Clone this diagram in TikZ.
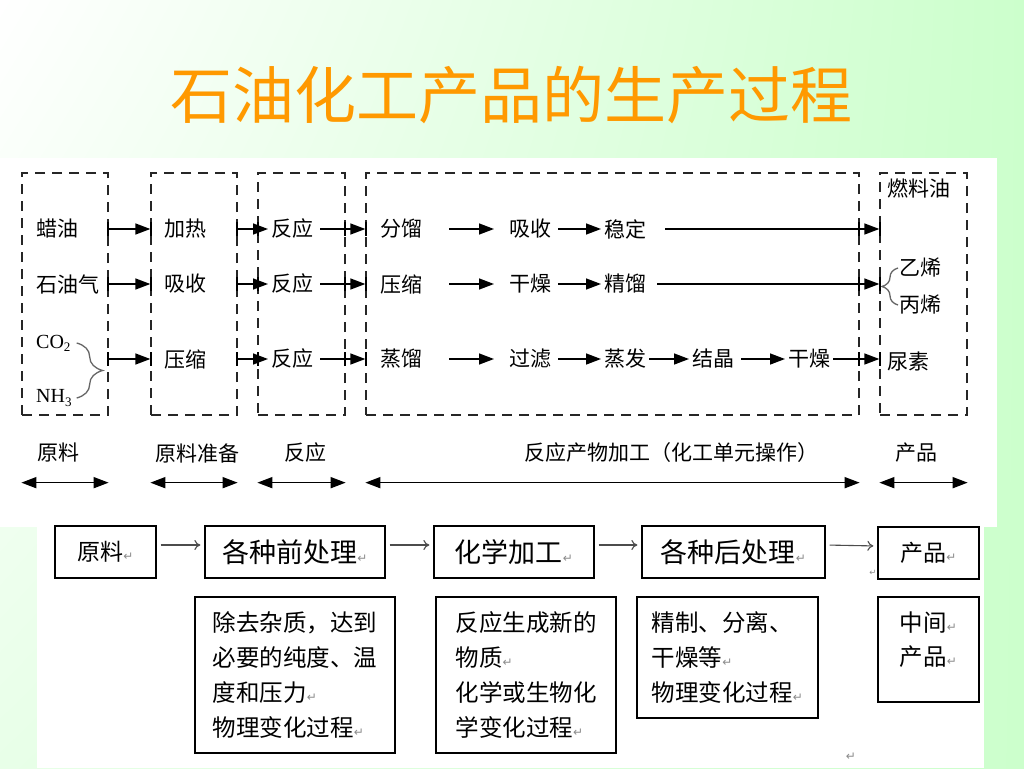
\documentclass[tikz,border=0pt]{standalone}
\usepackage{fontspec}
\setmainfont{Noto Sans CJK SC}
\newfontfamily\latinserif{Liberation Serif}
\newfontfamily\symfont{DejaVu Sans}
\usetikzlibrary{arrows.meta,decorations.pathreplacing,shadings}
\definecolor{bgright}{RGB}{204,255,204}
\definecolor{bgleft}{RGB}{232,255,232}
\definecolor{titleorange}{RGB}{255,153,0}
\newcommand{\retmark}{{\symfont\fontsize{12}{12}\selectfont\color{black!45}↵}}

\begin{document}
\begin{tikzpicture}[x=1pt,y=-1pt,
  stage/.style={draw=black!85,line width=1.3pt,dash pattern=on 10pt off 7pt,minimum width=#1,minimum height=242pt,inner sep=0pt},
  item/.style={anchor=west,inner sep=3pt,font=\fontsize{21}{21}\selectfont},
  arr/.style={-{Triangle[length=15pt,width=11pt]},line width=1.4pt},
  span/.style={{Triangle[length=15pt,width=11pt]}-{Triangle[length=15pt,width=11pt]},line width=1.6pt},
  tick/.style={line width=1.4pt},
  curly/.style={decorate,decoration={brace,amplitude=#1},draw=black!60,line width=1.3pt},
  proc/.style={draw,line width=1.3pt,minimum height=52pt,inner sep=0pt,font=\fontsize{27}{27}\selectfont},
  note/.style={draw,line width=1.3pt,align=left,inner sep=0pt,font=\fontsize{23.5}{34.7}\selectfont},
  flow/.style={-{To[length=6pt,width=10pt]},draw=black!70,line width=1.1pt,shorten <=4pt,shorten >=4pt}]
\useasboundingbox (0,0) rectangle (1024,768);
\shade[upper left=white,upper right=bgright,lower left=bgleft,lower right=bgright] (0,0) rectangle (1024,768);
\fill[white] (0,158) rectangle (997,527);
\fill[white] (37,515) rectangle (984,768);
\node[font=\fontsize{62}{62}\selectfont,text=titleorange] (title) at (511.5,95) {石油化工产品的生产过程};

% stages
\node[stage=86pt] (s1) at (65,294) {};
\node[stage=86pt] (s2) at (194,294) {};
\node[stage=87pt] (s3) at (301.5,294) {};
\node[stage=493pt] (s4) at (612.5,294) {};
\node[stage=87pt] (s5) at (923.5,294) {};

\node[item] (a1) at (33,229) {蜡油};
\node[item] (b1) at (161,229) {加热};
\node[item] (c1) at (268,229) {反应};
\node[item] (d1) at (377,229) {分馏};
\node[item] (e1) at (506,229) {吸收};
\node[item] (f1) at (601,229) {稳定};
\node[item] (a2) at (33,284) {石油气};
\node[item] (b2) at (161,284) {吸收};
\node[item] (c2) at (268,284) {反应};
\node[item] (d2) at (377,284) {压缩};
\node[item] (e2) at (506,284) {干燥};
\node[item] (f2) at (601,284) {精馏};
\node[item,font=\latinserif\fontsize{20}{20}\selectfont] (co2) at (33,343) {CO\raisebox{-0.35ex}{\fontsize{13}{13}\selectfont 2}};
\node[item,font=\latinserif\fontsize{20}{20}\selectfont] (nh3) at (33,398) {NH\raisebox{-0.35ex}{\fontsize{13}{13}\selectfont 3}};
\node[item] (b3) at (161,359) {压缩};
\node[item] (c3) at (268,359) {反应};
\node[item] (d3) at (377,359) {蒸馏};
\node[item] (e3) at (506,359) {过滤};
\node[item] (f3) at (601,359) {蒸发};
\node[item] (g3) at (689,359) {结晶};
\node[item] (h3) at (785,359) {干燥};
\node[item] (fuel) at (884,188) {燃料油};
\node[item] (u1) at (896,268) {乙烯};
\node[item] (u2) at (896,305) {丙烯};
\node[item] (urea) at (884,361) {尿素};

\draw[curly=26pt] ([xshift=3pt]co2.east) -- ([xshift=3pt]co2.east|-nh3);
\draw[curly=16pt] ([xshift=2pt]u2.west) -- ([xshift=2pt]u1.west);

\draw[arr] (s1.east|-a1) -- (s2.west|-a1);
\draw[arr] (s1.east|-a2) -- (s2.west|-a2);
\draw[arr] (s1.east|-b3) -- (s2.west|-b3);
\foreach \r in {1,2,3}{
  \draw[arr] (s2.east|-c\r) -- (c\r.west);
  \draw[arr,shorten <=4pt] (c\r.east) -- (s4.west|-c\r);
  \draw[arr,shorten <=24pt,shorten >=12pt] (d\r.east) -- (e\r.west);
  \draw[arr,shorten <=4pt] (e\r.east) -- (f\r.west);
}
\draw[arr,shorten <=16pt] (f1.east) -- (s5.west|-f1);
\draw[arr,shorten <=8pt] (f2.east) -- (s5.west|-f2);
\draw[arr] (f3.east) -- (g3.west);
\draw[arr,shorten <=4pt] (g3.east) -- (h3.west);
\draw[arr] (h3.east) -- (s5.west|-h3);
\foreach \x in {108,151,237,258,345,366,859,880}
  \foreach \y in {229,284,359}
    \draw[tick] (\x,\y) ++(0,-7) -- ++(0,14);

% spans
\node[item,anchor=center] (l1) at (58,453) {原料};
\node[item,anchor=center] (l2) at (197,453) {原料准备};
\node[item,anchor=center] (l3) at (305,453) {反应};
\node[item,anchor=center] (l4) at (671,453) {反应产物加工（化工单元操作）};
\node[item,anchor=center] (l5) at (916,453) {产品};
\foreach \s in {s1,s2,s3,s4,s5}
  \draw[span] ([yshift=-67pt]\s.south west) -- ([yshift=-67pt]\s.south east);

% process
\node[proc,minimum width=101pt,font=\fontsize{23}{23}\selectfont] (p1) at (105.5,552) {原料\retmark};
\node[proc,minimum width=180pt] (p2) at (295,552) {各种前处理\retmark};
\node[proc,minimum width=160pt] (p3) at (514,552) {化学加工\retmark};
\node[proc,minimum width=183pt] (p4) at (733.5,552) {各种后处理\retmark};
\node[proc,minimum width=101pt,font=\fontsize{23}{23}\selectfont] (p5) at (928.5,553) {产品\retmark};
\draw[flow] ([yshift=7pt]p1.east) -- ([yshift=7pt]p2.west);
\draw[flow] ([yshift=7pt]p2.east) -- ([yshift=7pt]p3.west);
\draw[flow] ([yshift=7pt]p3.east) -- ([yshift=7pt]p4.west);
\draw[flow] ([yshift=7pt]p4.east) -- ([yshift=7pt]p5.west);

\node[note,minimum width=200pt,minimum height=156pt] (q2) at (295,675) {除去杂质，达到\\必要的纯度、温\\度和压力\retmark\\物理变化过程\retmark};
\node[note,minimum width=180pt,minimum height=156pt] (q3) at (526,675) {反应生成新的\\物质\retmark\\化学或生物化\\学变化过程\retmark};
\node[note,minimum width=181pt,minimum height=121pt] (q4) at (727.5,657.5) {精制、分离、\\干燥等\retmark\\物理变化过程\retmark};
\node[note,minimum width=101pt,minimum height=105pt,text depth=22pt] (q5) at (928.5,649.5) {中间\retmark\\产品\retmark};
\node (m1) at (851,757) {\retmark};
\node[scale=0.7] (m2) at (873,573) {\retmark};
\end{tikzpicture}
\end{document}
